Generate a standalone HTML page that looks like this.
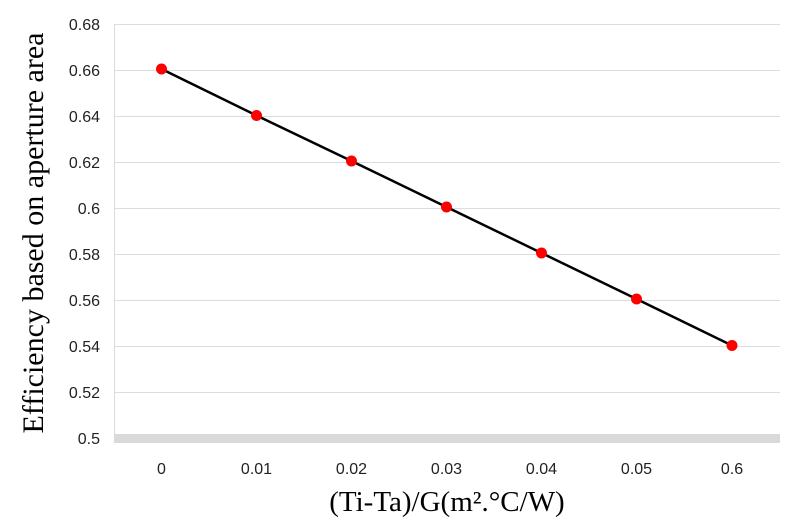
<!DOCTYPE html>
<html><head><style>body{margin:0;background:#fff}svg{display:block}</style></head><body>
<svg width="800" height="521" xmlns="http://www.w3.org/2000/svg">
<g stroke="#dcdcdc" stroke-width="1">
<line x1="114" y1="24.5" x2="780" y2="24.5"/>
<line x1="114" y1="70.5" x2="780" y2="70.5"/>
<line x1="114" y1="116.5" x2="780" y2="116.5"/>
<line x1="114" y1="162.5" x2="780" y2="162.5"/>
<line x1="114" y1="208.5" x2="780" y2="208.5"/>
<line x1="114" y1="254.5" x2="780" y2="254.5"/>
<line x1="114" y1="300.5" x2="780" y2="300.5"/>
<line x1="114" y1="346.5" x2="780" y2="346.5"/>
<line x1="114" y1="392.5" x2="780" y2="392.5"/>
<line x1="114.5" y1="24" x2="114.5" y2="434"/>
</g>
<rect x="114" y="434" width="666" height="9" fill="#d9d9d9"/>
<g font-family="Liberation Sans, sans-serif" font-size="16" fill="#222" text-anchor="end">
<text x="100" y="30">0.68</text><text x="100" y="76">0.66</text><text x="100" y="122">0.64</text>
<text x="100" y="168">0.62</text><text x="100" y="214">0.6</text><text x="100" y="260">0.58</text>
<text x="100" y="306">0.56</text><text x="100" y="352">0.54</text><text x="100" y="398">0.52</text>
<text x="100" y="444">0.5</text>
</g>
<g font-family="Liberation Sans, sans-serif" font-size="16" fill="#222" text-anchor="middle">
<text x="161.5" y="474">0</text><text x="256.5" y="474">0.01</text><text x="351.5" y="474">0.02</text>
<text x="446.5" y="474">0.03</text><text x="541.5" y="474">0.04</text><text x="636.5" y="474">0.05</text>
<text x="732" y="474">0.6</text>
</g>
<text x="447" y="511" font-family="Liberation Serif, serif" font-size="29" text-anchor="middle" fill="#000">(Ti-Ta)/G(m².°C/W)</text>
<text transform="translate(43,233) rotate(-90)" font-family="Liberation Serif, serif" font-size="30" text-anchor="middle" fill="#000">Efficiency based on aperture area</text>
<polyline points="161.5,69 256.5,115.5 351.5,161 446.5,207 541.5,253 636.5,299 732,345.5" fill="none" stroke="#000" stroke-width="2.5"/>
<g fill="#f00">
<circle cx="161.5" cy="69" r="5.5"/><circle cx="256.5" cy="115.5" r="5.5"/><circle cx="351.5" cy="161" r="5.5"/>
<circle cx="446.5" cy="207" r="5.5"/><circle cx="541.5" cy="253" r="5.5"/><circle cx="636.5" cy="299" r="5.5"/>
<circle cx="732" cy="345.5" r="5.5"/>
</g>
</svg>
</body></html>
